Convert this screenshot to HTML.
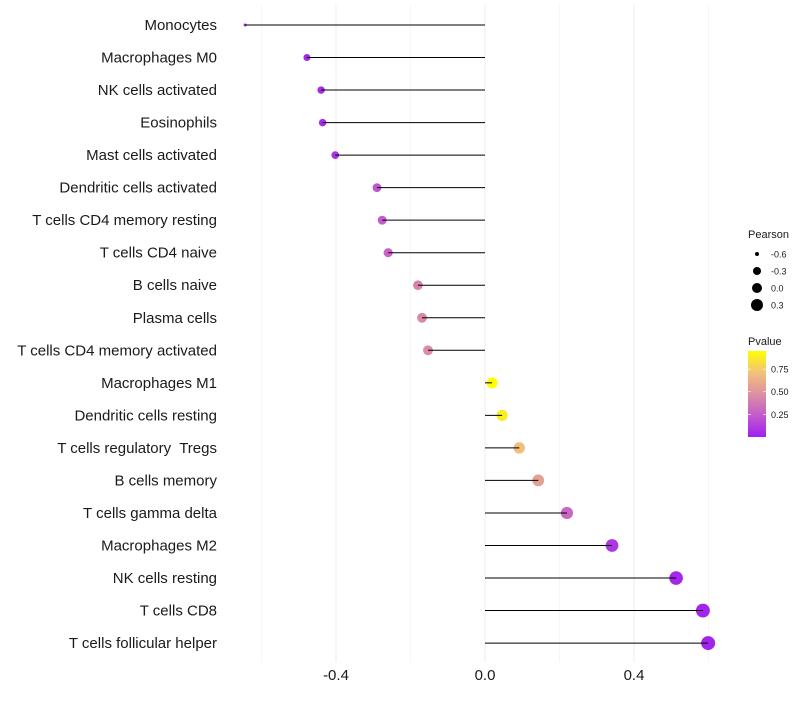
<!DOCTYPE html>
<html><head><meta charset="utf-8"><style>
body{margin:0;background:#fff;font-family:"Liberation Sans",sans-serif;}
text{white-space:pre;}
</style></head><body>
<svg id="chart" width="800" height="700" xmlns="http://www.w3.org/2000/svg">
<defs>
<linearGradient id="pgrad" x1="0" y1="1" x2="0" y2="0">
<stop offset="0" stop-color="#A020F0"/>
<stop offset="0.25" stop-color="#C25ACC"/>
<stop offset="0.5" stop-color="#DD90A0"/>
<stop offset="0.75" stop-color="#F2C27A"/>
<stop offset="1" stop-color="#FFFF00"/>
</linearGradient>
</defs>
<g id="grid"></g><g id="marks"></g><g id="labels"></g><g id="xaxis"></g>
<g id="legend"></g>
</svg>
<script>
const categories=["Monocytes","Macrophages M0","NK cells activated","Eosinophils","Mast cells activated","Dendritic cells activated","T cells CD4 memory resting","T cells CD4 naive","B cells naive","Plasma cells","T cells CD4 memory activated","Macrophages M1","Dendritic cells resting","T cells regulatory  Tregs","B cells memory","T cells gamma delta","Macrophages M2","NK cells resting","T cells CD8","T cells follicular helper"];
const pearson=[-0.644,-0.478,-0.44,-0.436,-0.402,-0.29,-0.276,-0.26,-0.18,-0.169,-0.153,0.019,0.046,0.092,0.143,0.22,0.341,0.513,0.585,0.599];
const pvalue=[0.02,0.03,0.05,0.05,0.08,0.22,0.25,0.28,0.42,0.44,0.46,0.95,0.88,0.7,0.55,0.3,0.1,0.03,0.02,0.02];
const xTicks=[-0.4,0.0,0.4];
const xTickLabels=["-0.4","0.0","0.4"];
const xGrid=[-0.6,-0.2,0.2,0.6];
const sizeLegend=[-0.6,-0.3,0.0,0.3];
const colorLegend=[0.25,0.5,0.75];

const NS="http://www.w3.org/2000/svg";
function el(t,a,p){const e=document.createElementNS(NS,t);for(const k in a)e.setAttribute(k,a[k]);p.appendChild(e);return e;}
const X=v=>485+v*372.5;
const Y=i=>25+i*32.53;
const R=v=>{const t=Math.max(0,(v+0.644)/1.244);return 1.5+5.5*Math.sqrt(t);};
function lerp(a,b,t){return a+(b-a)*t;}
const stops=[[0,[160,32,240]],[0.25,[194,90,204]],[0.5,[221,144,160]],[0.75,[242,194,122]],[1,[255,255,0]]];
function col(p){const t=Math.min(1,Math.max(0,p/0.95));for(let i=0;i<stops.length-1;i++){if(t<=stops[i+1][0]){const u=(t-stops[i][0])/(stops[i+1][0]-stops[i][0]);const c=stops[i][1].map((v,j)=>Math.round(lerp(v,stops[i+1][1][j],u)));return `rgb(${c})`;}}return "rgb(255,255,0)";}

const grid=document.getElementById('grid');
xGrid.forEach(v=>{const l=el('line',{x1:X(v),x2:X(v),y1:5,y2:662,stroke:'#f6f6f6','stroke-width':1},grid);

});
xTicks.forEach(v=>{const l=el('line',{x1:X(v),x2:X(v),y1:5,y2:662,stroke:'#f0f0f0','stroke-width':1.2},grid);

});

const marks=document.getElementById('marks'),labels=document.getElementById('labels');
categories.forEach((c,i)=>{
 const pt=el('circle',{cx:X(pearson[i]),cy:Y(i),r:R(pearson[i]),fill:col(pvalue[i])},marks);
 
 
 const ln=el('line',{x1:X(0),x2:X(pearson[i]),y1:Y(i),y2:Y(i),stroke:'#000','stroke-width':1},marks);
 
 
 const t=el('text',{x:217,y:Y(i)+5,'text-anchor':'end','font-size':15,fill:'#1a1a1a'},labels);
 t.textContent=c;
 
 
});
const xa=document.getElementById('xaxis');
xTicks.forEach((v,i)=>{const t=el('text',{x:X(v),y:680,'text-anchor':'middle','font-size':15,fill:'#1a1a1a'},xa);t.textContent=xTickLabels[i];

});

const lg=document.getElementById('legend');
let tt=el('text',{x:748,y:238,'font-size':11,fill:'#1a1a1a'},lg);tt.textContent='Pearson';


const legR=[2,4,5,6];
sizeLegend.forEach((v,i)=>{const y=254+i*17;
 const c=el('circle',{cx:757,cy:y,r:legR[i],fill:'#000'},lg);
 
 
 const t=el('text',{x:771,y:y+3.5,'font-size':9,fill:'#1a1a1a'},lg);t.textContent=v.toFixed(1);
 
 });
tt=el('text',{x:748,y:345,'font-size':11,fill:'#1a1a1a'},lg);tt.textContent='Pvalue';


const bar=el('rect',{x:748,y:351,width:18,height:86,fill:'url(#pgrad)'},lg);


const CY=v=>437-v/0.95*86;
colorLegend.forEach(v=>{
 el('line',{x1:748,x2:751,y1:CY(v),y2:CY(v),stroke:'#fff','stroke-width':0.6},lg);
 el('line',{x1:763,x2:766,y1:CY(v),y2:CY(v),stroke:'#fff','stroke-width':0.6},lg);
 const t=el('text',{x:771,y:CY(v)+3.5,'font-size':9,fill:'#1a1a1a'},lg);t.textContent=v.toFixed(2);
 
 });
</script>
</body></html>
